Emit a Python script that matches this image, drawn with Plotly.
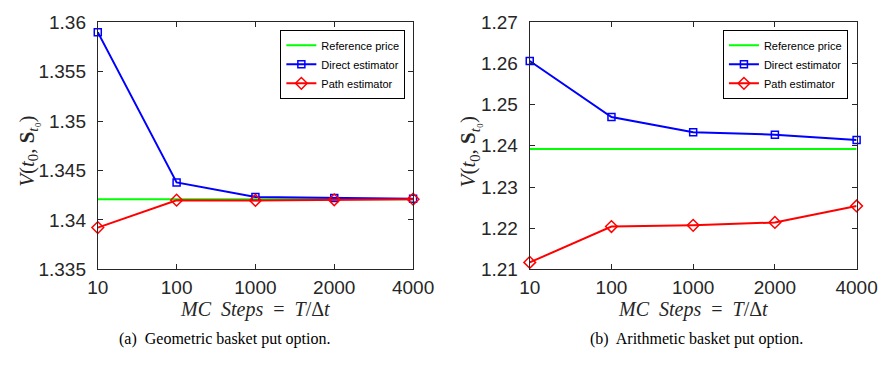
import plotly.graph_objects as go

steps = ["10", "100", "1000", "2000", "4000"]

geo_reference = [1.3421, 1.3421, 1.3421, 1.3421, 1.3421]
geo_direct = [1.3590, 1.3438, 1.34232, 1.34222, 1.34215]
geo_path = [1.33923, 1.34200, 1.34198, 1.34204, 1.34210]

ari_reference = [1.2392, 1.2392, 1.2392, 1.2392, 1.2392]
ari_direct = [1.2606, 1.2470, 1.2433, 1.2427, 1.2414]
ari_path = [1.2117, 1.2204, 1.2207, 1.2214, 1.2254]

geo_ticks = [1.335, 1.34, 1.345, 1.35, 1.355, 1.36]
geo_ticktext = ["1.335", "1.34", "1.345", "1.35", "1.355", "1.36"]
ari_ticks = [1.21, 1.22, 1.23, 1.24, 1.25, 1.26, 1.27]
ari_ticktext = ["1.21", "1.22", "1.23", "1.24", "1.25", "1.26", "1.27"]

names = ["Reference price", "Direct estimator", "Path estimator"]
colors = ["#00ff00", "#0000ff", "#ff0000"]

W, H = 894, 370
fig = go.Figure()

panels = [
    (geo_reference, geo_direct, geo_path, "x", "y", "legend"),
    (ari_reference, ari_direct, ari_path, "x2", "y2", "legend2"),
]
for ref, direct, path, xa, ya, lg in panels:
    fig.add_trace(go.Scatter(x=steps, y=ref, mode="lines", name=names[0],
                             line=dict(color=colors[0], width=2),
                             xaxis=xa, yaxis=ya, legend=lg, cliponaxis=False))
    fig.add_trace(go.Scatter(x=steps, y=direct, mode="lines+markers", name=names[1],
                             line=dict(color=colors[1], width=2),
                             marker=dict(symbol="square-open", size=7, color=colors[1],
                                         line=dict(width=1.5)),
                             xaxis=xa, yaxis=ya, legend=lg, cliponaxis=False))
    fig.add_trace(go.Scatter(x=steps, y=path, mode="lines+markers", name=names[2],
                             line=dict(color=colors[2], width=2),
                             marker=dict(symbol="diamond-open", size=9, color=colors[2],
                                         line=dict(width=1.5)),
                             xaxis=xa, yaxis=ya, legend=lg, cliponaxis=False))

axcol = "#262626"
tickfont = dict(family="Liberation Sans, Arial, sans-serif", size=19, color=axcol)
common_x = dict(type="category", range=[0, 4], showline=True, linecolor=axcol, linewidth=1,
                mirror="ticks", ticks="inside", ticklen=5, tickcolor=axcol,
                showgrid=False, zeroline=False, tickfont=tickfont, ticklabelstandoff=1)
common_y = dict(showline=True, linecolor=axcol, linewidth=1, mirror="ticks",
                ticks="inside", ticklen=5, tickcolor=axcol, showgrid=False,
                zeroline=False, tickfont=tickfont, ticklabelstandoff=7)

ytop, ybot = 13, 275
ydom = [1 - ybot / H, 1 - ytop / H]
x1dom = [90 / W, 417 / W]
x2dom = [538 / W, 877 / W]

legfont = dict(family="Liberation Sans, Arial, sans-serif", size=11, color="black")
fig.update_layout(
    width=W, height=H, margin=dict(l=0, r=0, t=0, b=0),
    plot_bgcolor="white", paper_bgcolor="white",
    xaxis=dict(domain=x1dom, anchor="y", **common_x),
    yaxis=dict(domain=ydom, anchor="x", range=[1.335, 1.36], tickvals=geo_ticks,
               ticktext=geo_ticktext, **common_y),
    xaxis2=dict(domain=x2dom, anchor="y2", **common_x),
    yaxis2=dict(domain=ydom, anchor="x2", range=[1.21, 1.27], tickvals=ari_ticks,
                ticktext=ari_ticktext, **common_y),
    legend=dict(x=409 / W, y=1 - 21 / H, xanchor="right", yanchor="top",
                bgcolor="white", bordercolor="black", borderwidth=1,
                font=legfont, tracegroupgap=0, itemwidth=30),
    legend2=dict(x=868 / W, y=1 - 21 / H, xanchor="right", yanchor="top",
                 bgcolor="white", bordercolor="black", borderwidth=1,
                 font=legfont, tracegroupgap=0, itemwidth=30),
    showlegend=True,
)

serif = "Liberation Serif, DejaVu Serif, serif"
ytitle = "<i>V</i>(<i>t</i><sub>0</sub>, <b>S</b><sub><i>t</i>₀</sub>)"
xtitle = "<i>MC\u2002Steps</i>\u2002=\u2002<i>T</i>/Δ<i>t</i>"

ann = []
for cx, capx, cap in [((90 + 417) / 2, 222, "(a)  Geometric basket put option."),
                      ((538 + 877) / 2, 711, "(b)  Arithmetic basket put option.")]:
    ann.append(dict(text=xtitle, x=cx / W, y=1 - 318 / H, xref="paper", yref="paper",
                    xanchor="center", yanchor="middle", showarrow=False,
                    font=dict(family=serif, size=20, color=axcol)))
    ann.append(dict(text=cap, x=capx / W, y=1 - 349 / H, xref="paper", yref="paper",
                    xanchor="center", yanchor="middle", showarrow=False,
                    font=dict(family=serif, size=16, color="black")))
for tx in [18, 476]:
    ann.append(dict(text=ytitle, x=tx / W, y=1 - 150 / H, xref="paper", yref="paper",
                    xanchor="center", yanchor="middle", showarrow=False, textangle=-90,
                    font=dict(family=serif, size=21, color=axcol)))
fig.update_layout(annotations=ann)

fig.write_html("out.html")
